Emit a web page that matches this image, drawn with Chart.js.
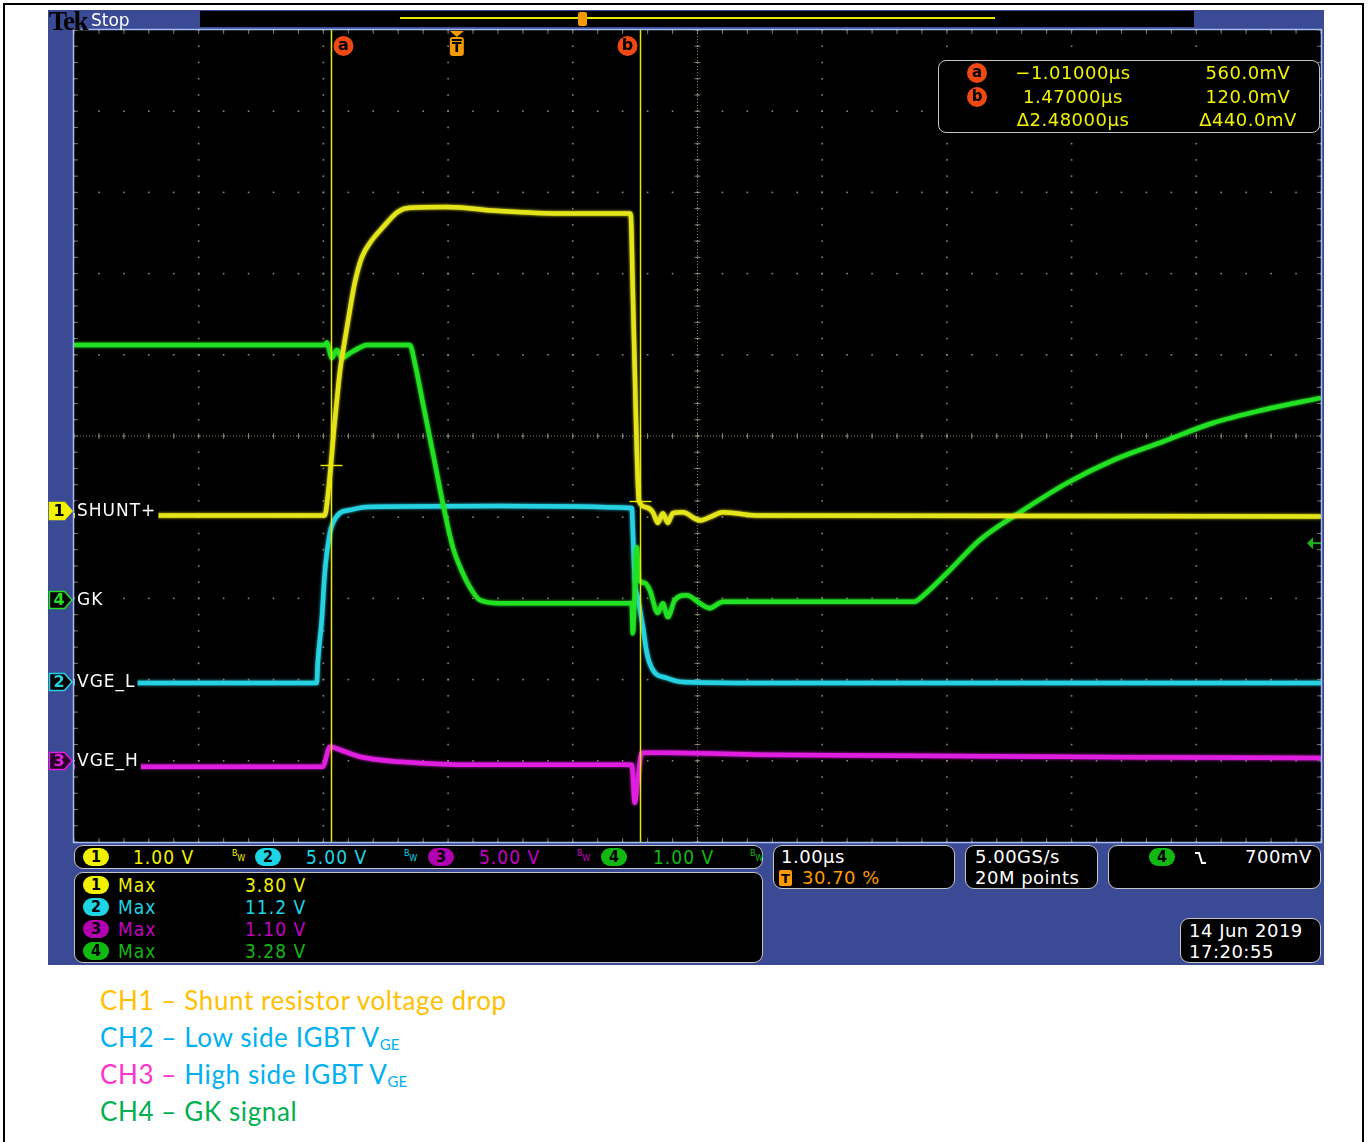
<!DOCTYPE html>
<html>
<head>
<meta charset="utf-8">
<script src="https://cdn.jsdelivr.net/npm/chart.js@4.4.1/dist/chart.umd.min.js"></script>
<style>
  html, body { margin: 0; padding: 0; background: #fff; width: 1368px; height: 1142px; overflow: hidden; position: relative; }
  #frame { position: absolute; left: 3px; top: 3px; width: 1357px; height: 1170px; border: 2px solid #000; }
  #scope { position: absolute; left: 48px; top: 10px; width: 1276px; height: 955px; background: #3b4a95; color: #fff; }
  #plot { position: absolute; left: 0; top: 0; }
  .s { position: absolute; white-space: nowrap; line-height: 1; }
  .f18 { font-family: "DejaVu Sans", sans-serif; font-size: 18px; letter-spacing: 0.5px; }
  .cond { font-family: "DejaVu Sans Condensed", "Liberation Sans Narrow", "DejaVu Sans", sans-serif; font-size: 19px; letter-spacing: 1px; }
  .box { position: absolute; background: #000; border: 1px solid #c4c4c4; border-radius: 9px; box-sizing: border-box; }
  .pill { position: absolute; width: 26px; height: 18px; border-radius: 9px; color: #000; text-align: center; line-height: 18px;
          font-family: "DejaVu Sans Condensed", "Liberation Sans Narrow", "DejaVu Sans", sans-serif; font-size: 16px; font-weight: bold; }
  .bw { position: absolute; font-family: "DejaVu Sans", sans-serif; font-size: 8px; line-height: 1; }
  .cl { position: absolute; width: 20px; height: 20px; border-radius: 50%; background: #f04812; color: #000; text-align: center; line-height: 19px;
        font-family: "DejaVu Sans", sans-serif; font-size: 15px; font-weight: bold; }
  .cap { position: absolute; left: 100px; font-family: Lato, "Open Sans", sans-serif; font-size: 26px; letter-spacing: 0.6px; line-height: 1; white-space: nowrap; }
  .sub { font-size: 15px; position: relative; top: 3px; letter-spacing: 0; }
  .y { color: #f2f200; } .c { color: #1cd6e6; } .m { color: #c400c4; } .g { color: #12b812; } .o { color: #ff9a00; }
</style>
</head>
<body>
<div id="frame"></div>
<div id="scope">
  <canvas id="plot" width="1276" height="835"></canvas>

  <!-- top status bar -->
  <div class="s" style="left:1px;top:-4px;font:900 27px 'Liberation Serif','DejaVu Serif',serif;color:#000;letter-spacing:-1.5px;z-index:2;">Tek</div>
  <div class="s" style="left:43px;top:0px;font:17px 'DejaVu Sans',sans-serif;color:#fff;">Stop</div>
  <div style="position:absolute;left:152px;top:1px;width:994px;height:16px;background:#000;"></div>
  <div style="position:absolute;left:352px;top:7px;width:595px;height:1.5px;background:#e6e600;"></div>
  <div style="position:absolute;left:530px;top:2px;width:9px;height:14px;background:#f59a00;border-radius:2px;"></div>

  <!-- cursor readout -->
  <div class="box" style="left:890px;top:50px;width:382px;height:73px;border-radius:8px;"></div>
  <div class="cl" style="left:919px;top:53px;">a</div>
  <div class="cl" style="left:919px;top:77px;">b</div>
  <div class="s f18 y" style="left:945px;width:160px;text-align:center;top:54.4px;">−1.01000µs</div>
  <div class="s f18 y" style="left:945px;width:160px;text-align:center;top:78.4px;">1.47000µs</div>
  <div class="s f18 y" style="left:945px;width:160px;text-align:center;top:101.4px;">Δ2.48000µs</div>
  <div class="s f18 y" style="left:1130px;width:140px;text-align:center;top:54.4px;">560.0mV</div>
  <div class="s f18 y" style="left:1130px;width:140px;text-align:center;top:78.4px;">120.0mV</div>
  <div class="s f18 y" style="left:1130px;width:140px;text-align:center;top:101.4px;">Δ440.0mV</div>

  <!-- vertical settings -->
  <div class="box" style="left:26px;top:835px;width:689px;height:24px;"></div>
  <div class="pill" style="left:35px;top:838px;background:#f2f200;">1</div>
  <div class="s cond y" style="left:85px;top:838px;">1.00 V</div>
  <div class="bw y" style="left:184px;top:840px;">B<span style="position:relative;top:5px;">W</span></div>
  <div class="pill" style="left:207px;top:838px;background:#1cd6e6;">2</div>
  <div class="s cond c" style="left:258px;top:838px;">5.00 V</div>
  <div class="bw c" style="left:356px;top:840px;">B<span style="position:relative;top:5px;">W</span></div>
  <div class="pill" style="left:380px;top:838px;background:#b000b0;">3</div>
  <div class="s cond m" style="left:431px;top:838px;">5.00 V</div>
  <div class="bw m" style="left:529px;top:840px;">B<span style="position:relative;top:5px;">W</span></div>
  <div class="pill" style="left:553px;top:838px;background:#12b812;">4</div>
  <div class="s cond g" style="left:605px;top:838px;">1.00 V</div>
  <div class="bw g" style="left:702px;top:840px;">B<span style="position:relative;top:5px;">W</span></div>

  <!-- measurements -->
  <div class="box" style="left:26px;top:862px;width:689px;height:91px;"></div>
  <div class="pill" style="left:35px;top:866px;background:#f2f200;">1</div>
  <div class="s cond y" style="left:70px;top:866px;">Max</div>
  <div class="s cond y" style="left:197px;top:866px;">3.80 V</div>
  <div class="pill" style="left:35px;top:888px;background:#1cd6e6;">2</div>
  <div class="s cond c" style="left:70px;top:888px;">Max</div>
  <div class="s cond c" style="left:197px;top:888px;">11.2 V</div>
  <div class="pill" style="left:35px;top:910px;background:#b000b0;">3</div>
  <div class="s cond m" style="left:70px;top:910px;">Max</div>
  <div class="s cond m" style="left:197px;top:910px;">1.10 V</div>
  <div class="pill" style="left:35px;top:932px;background:#12b812;">4</div>
  <div class="s cond g" style="left:70px;top:932px;">Max</div>
  <div class="s cond g" style="left:197px;top:932px;">3.28 V</div>

  <!-- horizontal / acquisition / trigger -->
  <div class="box" style="left:725px;top:835px;width:182px;height:44px;"></div>
  <div class="s f18" style="left:733px;top:838.4px;">1.00µs</div>
  <div style="position:absolute;left:731px;top:860px;width:13px;height:16px;background:#ff9a00;border-radius:2px;color:#000;font:bold 13px 'DejaVu Sans',sans-serif;text-align:center;line-height:17px;">T</div>
  <div class="s f18 o" style="left:754px;top:859.4px;">30.70 %</div>

  <div class="box" style="left:917px;top:835px;width:133px;height:44px;"></div>
  <div class="s f18" style="left:927px;top:838.4px;">5.00GS/s</div>
  <div class="s f18" style="left:927px;top:859.4px;">20M points</div>

  <div class="box" style="left:1060px;top:835px;width:213px;height:44px;"></div>
  <div class="pill" style="left:1101px;top:838px;background:#12b812;">4</div>
  <svg style="position:absolute;left:1146px;top:840px;" width="14" height="16"><path d="M1 3 H5 L8 13 H12" stroke="#fff" stroke-width="2" fill="none"/></svg>
  <div class="s f18" style="left:1197px;top:838.4px;">700mV</div>

  <div class="box" style="left:1132px;top:908px;width:141px;height:45px;"></div>
  <div class="s f18" style="left:1141px;top:912.4px;">14 Jun 2019</div>
  <div class="s f18" style="left:1141px;top:933.4px;">17:20:55</div>
</div>

<div class="cap" style="top:987px;color:#ffc000;">CH1 – Shunt resistor voltage drop</div>
<div class="cap" style="top:1024px;color:#00b0f0;">CH2 – Low side IGBT V<span class="sub">GE</span></div>
<div class="cap" style="top:1061px;color:#00b0f0;"><span style="color:#ff33cc;">CH3 –</span> High side IGBT V<span class="sub">GE</span></div>
<div class="cap" style="top:1098px;color:#00b050;">CH4 – GK signal</div>

<script>
// Timebase: 1.00 µs/div over 10 divisions, trigger at 30.70 % of the record
const TIME_PER_DIV = 1.0;
const TRIGGER_POS = 0.307;
const H_DIVS = 10;
const V_DIVS = 10;

// Channel setup (display order: CH1, CH2, CH3, CH4)
const channelNames = ['SHUNT+', 'VGE_L', 'VGE_H', 'GK'];
const channelNumbers = ['1', '2', '3', '4'];
const channelVoltsPerDiv = [1.0, 5.0, 5.0, 1.0];
const channelPositionDiv = [-0.92, -3.03, -4.0, -2.02];
const channelColors = ['#e4e41a', '#26d2e2', '#e01ee0', '#22e022'];

// CH1 – shunt voltage (V) vs time (µs)
const ch1Time  = [-3.071, -1.059, -1.034, -1.010, -0.986, -0.962, -0.938, -0.898, -0.858, -0.818,
                  -0.762, -0.682, -0.593, -0.473, -0.377, -0.080, 0.345, 0.826, 1.387, 1.395,
                  1.411, 1.427, 1.443, 1.460, 1.524, 1.572, 1.612, 1.652, 1.692, 1.732,
                  1.812, 1.949, 2.029, 2.133, 2.430, 6.929];
const ch1Volts = [-0.06, -0.06, 0.19, 0.56, 0.99, 1.36, 1.71, 2.10, 2.47, 2.81,
                  3.12, 3.33, 3.49, 3.68, 3.73, 3.74, 3.69, 3.66, 3.66, 3.64,
                  2.72, 1.73, 0.75, 0.12, 0.04, -0.02, -0.15, -0.03, -0.15, -0.03,
                  -0.02, -0.12, -0.08, -0.02, -0.06, -0.07];

// CH2 – low side IGBT VGE (V)
const ch2Time  = [-3.071, -1.123, -1.115, -1.083, -1.059, -1.018, -0.994, -0.938, -0.858, -0.722,
                  0.345, 1.403, 1.411, 1.427, 1.451, 1.492, 1.524, 1.572, 1.684, 1.812,
                  2.430, 6.929];
const ch2Volts = [-0.06, -0.06, 1.17, 3.82, 6.71, 9.17, 9.79, 10.41, 10.59, 10.78,
                  10.84, 10.71, 9.36, 6.28, 5.23, 3.39, 1.79, 0.74, 0.25, 0.00,
                  -0.06, -0.06];

// CH3 – high side IGBT VGE (V)
const ch3Time  = [-3.071, -1.075, -1.018, -0.938, -0.778, -0.457, 0.184, 1.403, 1.427, 1.451,
                  1.483, 1.684, 2.430, 6.929];
const ch3Volts = [-0.37, -0.37, 0.86, 0.68, 0.25, -0.06, -0.25, -0.25, -2.59, -1.17,
                  0.49, 0.49, 0.37, 0.18];

// CH4 – GK signal (V)
const ch4Time  = [-3.071, -1.059, -1.043, -1.002, -0.962, -0.922, -0.858, -0.762, -0.722, -0.377,
                  -0.337, -0.273, -0.192, -0.112, -0.032, 0.048, 0.104, 0.184, 0.345, 1.403,
                  1.411, 1.443, 1.460, 1.508, 1.548, 1.612, 1.652, 1.692, 1.748, 1.844,
                  1.949, 2.029, 2.133, 2.430, 3.673, 3.697, 3.929, 4.194, 4.515, 4.892,
                  5.261, 5.662, 6.063, 6.464, 6.929];
const ch4Volts = [3.14, 3.14, 3.17, 2.98, 3.08, 2.98, 3.04, 3.12, 3.14, 3.14,
                  2.92, 2.43, 1.81, 1.19, 0.65, 0.33, 0.16, 0.00, -0.04, -0.04,
                  -0.41, 0.65, 0.25, 0.21, 0.12, -0.16, -0.04, -0.21, 0.00, 0.06,
                  -0.04, -0.10, -0.02, -0.02, -0.02, 0.00, 0.33, 0.74, 1.08, 1.44,
                  1.72, 1.95, 2.18, 2.34, 2.49];

// Cursors a / b (time in µs, CH1 level in V) and CH4 trigger level
const cursorLabels = ['a', 'b'];
const cursorTimes = [-1.01, 1.47];
const cursorVolts = [0.56, 0.12];
const triggerChannel = 3;
const triggerLevel = 0.70;

const traceTimes = [ch1Time, ch2Time, ch3Time, ch4Time];
const traceVolts = [ch1Volts, ch2Volts, ch3Volts, ch4Volts];

// volts -> screen divisions for a channel
function toDiv(ch, v) { return channelPositionDiv[ch] + v / channelVoltsPerDiv[ch]; }

const xMin = -TRIGGER_POS * H_DIVS * TIME_PER_DIV;
const xMax = xMin + H_DIVS * TIME_PER_DIV;

// draw order: CH1 on top, then CH4, CH2, CH3
const drawOrder = [0, 2, 3, 1];
const datasets = [0, 1, 2, 3].map(ch => ({
  label: channelNames[ch],
  data: traceTimes[ch].map((t, i) => ({ x: t, y: toDiv(ch, traceVolts[ch][i]) })),
  borderColor: channelColors[ch],
  borderWidth: 4.5,
  pointRadius: 0,
  cubicInterpolationMode: 'monotone',
  fill: false,
  order: drawOrder[ch]
}));

function roundRect(ctx, x, y, w, h, r) {
  ctx.beginPath();
  ctx.moveTo(x + r, y);
  ctx.arcTo(x + w, y, x + w, y + h, r);
  ctx.arcTo(x + w, y + h, x, y + h, r);
  ctx.arcTo(x, y + h, x, y, r);
  ctx.arcTo(x, y, x + w, y, r);
  ctx.closePath();
}

const scopeScreen = {
  id: 'scopeScreen',
  beforeDraw(chart) {
    const { ctx, chartArea: a } = chart;
    ctx.save();
    ctx.fillStyle = '#000';
    ctx.fillRect(a.left, a.top, a.right - a.left, a.bottom - a.top);
    ctx.restore();
  },
  beforeDatasetsDraw(chart) {
    const { ctx, chartArea: a, scales: { x, y } } = chart;
    ctx.save();
    ctx.fillStyle = 'rgba(150,150,128,0.9)';
    // dotted division lines (5 minor steps per division)
    for (let i = 0; i <= H_DIVS; i++) {
      const px = x.getPixelForValue(x.min + i * TIME_PER_DIV);
      for (let j = 0; j <= V_DIVS * 5; j++) {
        const py = y.getPixelForValue(y.min + j * 0.2);
        ctx.fillRect(px - 0.8, py - 0.8, 1.6, 1.6);
      }
    }
    for (let j = 0; j <= V_DIVS; j++) {
      const py = y.getPixelForValue(y.min + j);
      for (let i = 0; i <= H_DIVS * 5; i++) {
        const px = x.getPixelForValue(x.min + i * 0.2 * TIME_PER_DIV);
        ctx.fillRect(px - 0.8, py - 0.8, 1.6, 1.6);
      }
    }
    // centre cross: fine dots with minor ticks
    const cx = x.getPixelForValue(x.min + (H_DIVS / 2) * TIME_PER_DIV);
    const cy = y.getPixelForValue((y.min + y.max) / 2);
    ctx.strokeStyle = 'rgba(150,150,128,0.8)';
    ctx.lineWidth = 1;
    ctx.setLineDash([1, 2]);
    ctx.beginPath();
    ctx.moveTo(cx, a.top); ctx.lineTo(cx, a.bottom);
    ctx.moveTo(a.left, cy); ctx.lineTo(a.right, cy);
    ctx.stroke();
    ctx.setLineDash([]);
    ctx.beginPath();
    for (let j = 0; j <= V_DIVS * 5; j++) {
      const py = y.getPixelForValue(y.min + j * 0.2);
      ctx.moveTo(cx - 3, py); ctx.lineTo(cx + 3, py);
      ctx.moveTo(a.left, py); ctx.lineTo(a.left + 4, py);
      ctx.moveTo(a.right, py); ctx.lineTo(a.right - 4, py);
    }
    for (let i = 0; i <= H_DIVS * 5; i++) {
      const px = x.getPixelForValue(x.min + i * 0.2 * TIME_PER_DIV);
      ctx.moveTo(px, cy - 3); ctx.lineTo(px, cy + 3);
      ctx.moveTo(px, a.top); ctx.lineTo(px, a.top + 4);
      ctx.moveTo(px, a.bottom); ctx.lineTo(px, a.bottom - 4);
    }
    ctx.stroke();
    ctx.restore();
  },
  beforeDatasetDraw(chart, args) {
    const ctx = chart.ctx;
    ctx.save();
    ctx.shadowColor = chart.data.datasets[args.index].borderColor;
    ctx.shadowBlur = 3;
  },
  afterDatasetDraw(chart) {
    chart.ctx.restore();
  },
  afterDatasetsDraw(chart) {
    const { ctx, chartArea: a, scales: { x, y } } = chart;
    ctx.save();

    // cursor lines and CH1 crosshairs
    ctx.strokeStyle = '#e8e800';
    ctx.lineWidth = 1.5;
    cursorTimes.forEach((t, k) => {
      const px = Math.round(x.getPixelForValue(t)) + 0.5;
      ctx.beginPath();
      ctx.moveTo(px, a.top); ctx.lineTo(px, a.bottom);
      const py = Math.round(y.getPixelForValue(toDiv(0, cursorVolts[k]))) + 0.5;
      ctx.moveTo(px - 11, py); ctx.lineTo(px + 11, py);
      ctx.stroke();
      // cursor badge
      const bx = px + (k === 0 ? 12 : -13);
      const by = a.top + 16;
      ctx.fillStyle = '#f04812';
      ctx.beginPath(); ctx.arc(bx, by, 10, 0, Math.PI * 2); ctx.fill();
      ctx.fillStyle = '#000';
      ctx.font = 'bold 16px "DejaVu Sans"';
      ctx.textAlign = 'center'; ctx.textBaseline = 'middle';
      ctx.fillText(cursorLabels[k], bx, by);
    });

    // trigger position marker
    const tx = x.getPixelForValue(0);
    ctx.fillStyle = '#f59a00';
    ctx.beginPath();
    ctx.moveTo(tx - 7, a.top + 1); ctx.lineTo(tx + 7, a.top + 1); ctx.lineTo(tx, a.top + 7);
    ctx.closePath(); ctx.fill();
    roundRect(ctx, tx - 7, a.top + 7, 14, 19, 3); ctx.fill();
    ctx.fillStyle = '#000';
    ctx.fillRect(tx - 5, a.top + 9, 10, 2);
    ctx.font = 'bold 14px "DejaVu Sans"';
    ctx.textAlign = 'center'; ctx.textBaseline = 'middle';
    ctx.fillText('T', tx, a.top + 18);

    // trigger level arrow on the right edge
    const ty = y.getPixelForValue(toDiv(triggerChannel, triggerLevel));
    ctx.fillStyle = '#1fb01f'; ctx.strokeStyle = '#1fb01f'; ctx.lineWidth = 2;
    ctx.beginPath();
    ctx.moveTo(a.right - 14, ty); ctx.lineTo(a.right - 8, ty - 6); ctx.lineTo(a.right - 8, ty + 6);
    ctx.closePath(); ctx.fill();
    ctx.beginPath(); ctx.moveTo(a.right - 9, ty); ctx.lineTo(a.right, ty); ctx.stroke();

    // channel ground markers and names
    for (let ch = 0; ch < 4; ch++) {
      const gy = Math.round(y.getPixelForValue(channelPositionDiv[ch]));
      const col = channelColors[ch];
      ctx.beginPath();
      ctx.moveTo(1.5, gy - 8.5); ctx.lineTo(16.5, gy - 8.5); ctx.lineTo(24, gy);
      ctx.lineTo(16.5, gy + 8.5); ctx.lineTo(1.5, gy + 8.5); ctx.closePath();
      ctx.fillStyle = ch === 0 ? '#f2f200' : (ch === 2 ? '#2a002a' : '#000');
      ctx.fill();
      ctx.strokeStyle = ch === 0 ? '#f2f200' : col;
      ctx.lineWidth = 1.5;
      ctx.stroke();
      ctx.fillStyle = ch === 0 ? '#000' : col;
      ctx.font = 'bold 16px "DejaVu Sans"';
      ctx.textAlign = 'center'; ctx.textBaseline = 'middle';
      ctx.fillText(channelNumbers[ch], 11, gy + 1);

      ctx.font = '17px "DejaVu Sans"';
      ctx.letterSpacing = '1px';
      ctx.textAlign = 'left';
      const w = ctx.measureText(channelNames[ch]).width;
      ctx.fillStyle = '#000';
      ctx.fillRect(a.left + 1, gy - 10, w + 4, 20);
      ctx.fillStyle = '#fff';
      ctx.fillText(channelNames[ch], a.left + 3, gy + 1);
      ctx.letterSpacing = '0px';
    }

    // screen border
    ctx.strokeStyle = '#a4bcf0';
    ctx.lineWidth = 1.5;
    ctx.strokeRect(a.left - 0.5, a.top - 0.5, a.right - a.left + 1, a.bottom - a.top + 1);
    ctx.restore();
  }
};

new Chart(document.getElementById('plot').getContext('2d'), {
  type: 'line',
  data: { datasets },
  options: {
    responsive: false,
    animation: false,
    events: [],
    layout: { padding: { left: 26, top: 20, right: 3, bottom: 3 } },
    plugins: { legend: { display: false }, tooltip: { enabled: false }, title: { display: false } },
    scales: {
      x: { type: 'linear', display: false, min: xMin, max: xMax },
      y: { type: 'linear', display: false, min: -V_DIVS / 2, max: V_DIVS / 2 }
    }
  },
  plugins: [scopeScreen]
});
</script>
</body>
</html>
